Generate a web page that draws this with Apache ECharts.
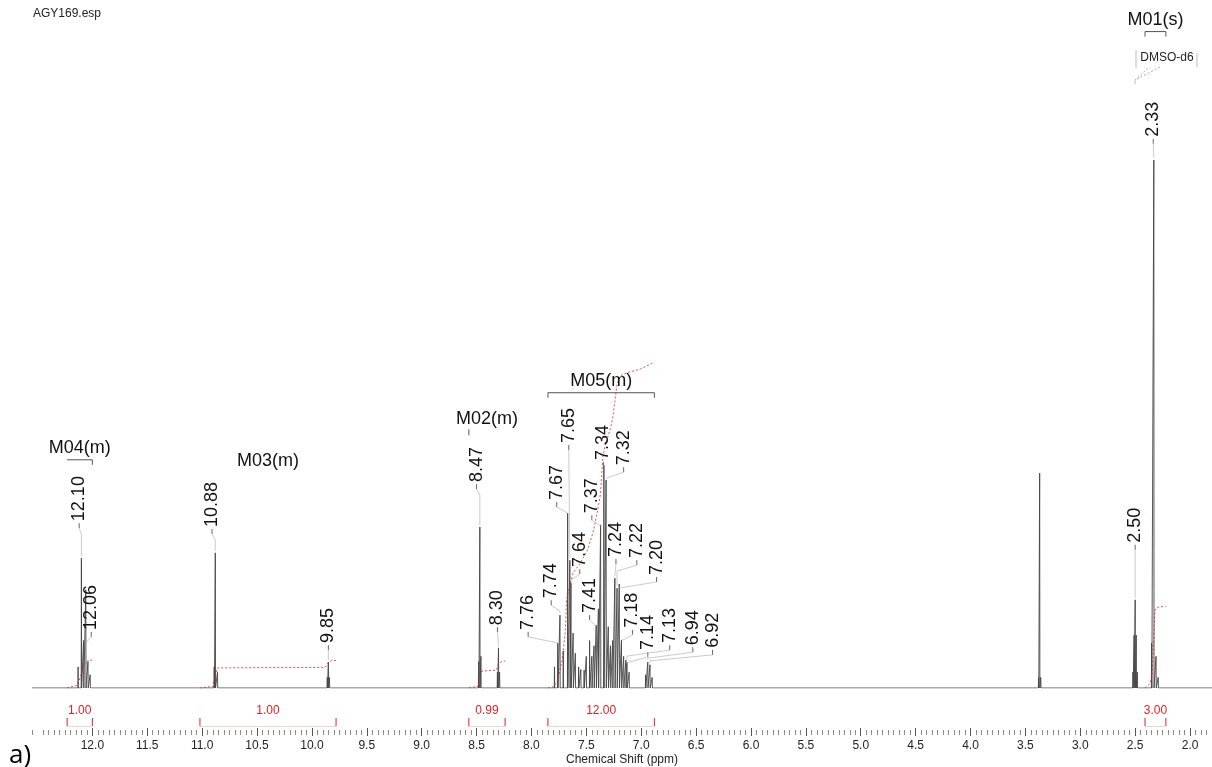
<!DOCTYPE html>
<html>
<head>
<meta charset="utf-8">
<script src="https://cdn.jsdelivr.net/npm/echarts@6/dist/echarts.min.js"></script>
<style>
  html, body { margin: 0; padding: 0; background: #ffffff; }
  #chart { width: 1212px; height: 767px; }
</style>
</head>
<body>
<div id="chart"></div>
<script>
// ---- 1H NMR spectrum, AGY169 in DMSO-d6 ----
const FONT = '"Liberation Sans", Arial, sans-serif';

// Peak list: chemical shift (ppm) and relative intensity (2.33 ppm = 100)
const peakShifts = [
  12.13, 12.10, 12.08, 12.06, 12.04, 12.02,
  10.89, 10.88, 10.86,
  9.86, 9.85, 9.84,
  8.48, 8.47, 8.46, 8.31, 8.30, 8.29,
  7.79, 7.76, 7.74, 7.71, 7.67, 7.65, 7.64, 7.62, 7.60, 7.57, 7.55, 7.52, 7.50,
  7.47, 7.45, 7.43, 7.41, 7.39, 7.37, 7.34, 7.32, 7.30, 7.28, 7.26, 7.24, 7.22,
  7.20, 7.18, 7.16, 7.14, 7.13, 7.11, 6.96, 6.94, 6.92, 6.90,
  3.38, 3.37, 3.36,
  2.52, 2.51, 2.50, 2.49, 2.48,
  2.35, 2.33, 2.31, 2.29
];
const peakHeights = [
  4, 24.6, 9, 18.6, 5, 2.5,
  4, 25.6, 3,
  2, 4.9, 2,
  5, 30.5, 6, 3, 7.6, 3,
  4, 8.5, 13.8, 7, 33.1, 24.2, 19.9, 10.4, 6.6, 4, 3.5, 3.4, 6,
  9, 6, 8, 11.9, 15, 30.9, 42.2, 39.4, 11.6, 8, 9, 20.8, 18.9,
  19.7, 9.1, 6, 5.3, 4.9, 3, 2.5, 4.9, 4.4, 2,
  2, 40.7, 2,
  3, 10, 16.7, 10, 3,
  8.5, 100, 6, 2
];

// Peaks carrying a shift label
const labelledShifts = [
  12.10, 12.06, 10.88, 9.85, 8.47, 8.30, 7.76, 7.74, 7.67, 7.65, 7.64, 7.41,
  7.37, 7.34, 7.32, 7.24, 7.22, 7.20, 7.18, 7.14, 7.13, 6.94, 6.92, 2.50, 2.33
];
// Where each shift label starts (shift, intensity level of the text foot)
const labelAnchorShifts = [
  12.12, 12.01, 10.91, 9.85, 8.50, 8.31, 8.03, 7.82, 7.77, 7.66, 7.56, 7.47,
  7.45, 7.345, 7.16, 7.23, 7.04, 6.86, 7.08, 6.94, 6.74, 6.53, 6.35, 2.50, 2.335
];
const labelAnchorLevels = [
  31.6, 11.0, 30.5, 8.5, 39.0, 11.9, 11.0, 17.0, 35.6, 46.4, 22.9, 14.2,
  33.1, 43.2, 42.2, 24.8, 24.6, 21.4, 11.4, 7.2, 8.5, 8.1, 7.6, 27.5, 104.4
];

// Multiplets: name, integration range (ppm), integral
const multipletNames = ['M04(m)', 'M03(m)', 'M02(m)', 'M05(m)', 'M01(s)'];
const multipletRanges = [[12.23, 12.00], [11.02, 9.78], [8.57, 8.24], [7.85, 6.88], [2.41, 2.22]];
const integralValues = [1.00, 1.00, 0.99, 12.00, 3.00];
const multipletLabelLevels = [45.4, 43.0, 51.0, 58.1, 126.5];
const bracketModes = ['right', 'none', 'left', 'both', 'both'];

// Integral curves (shift, cumulative level)
const integralM04 = [[12.23, 0], [12.14, 0.5], [12.11, 2], [12.09, 3.5], [12.07, 4.5], [12.04, 5.2], [12.00, 5.3]];
const integralM03 = [[11.02, 0], [10.90, 0.3], [10.88, 2.5], [10.86, 3.8], [10.50, 3.85], [9.88, 3.9], [9.85, 4.8], [9.82, 5.2], [9.78, 5.2]];
const integralM02 = [[8.57, 0], [8.49, 0.3], [8.47, 2.5], [8.45, 3.2], [8.32, 3.4], [8.30, 4.6], [8.27, 5.0], [8.24, 5.1]];
const integralM05 = [
  [7.85, 0], [7.80, 0.2], [7.76, 1.5], [7.72, 5.3], [7.69, 11.0], [7.68, 16.7], [7.65, 19.5],
  [7.62, 21.8], [7.56, 23.5], [7.49, 26.1], [7.44, 29.4], [7.40, 33.3], [7.37, 36.9], [7.36, 40.3],
  [7.35, 43.6], [7.33, 45.8], [7.28, 49.2], [7.26, 51.1], [7.24, 54.2], [7.22, 57.6], [7.19, 59.1],
  [7.13, 59.7], [7.01, 60.4], [6.88, 61.7]
];
const integralM01 = [[2.41, 0], [2.365, 0.8], [2.347, 2.3], [2.338, 5.3], [2.329, 11.0], [2.32, 14.8], [2.292, 15.3], [2.22, 15.5]];

const majorTicks = [12.0, 11.5, 11.0, 10.5, 10.0, 9.5, 9.0, 8.5, 8.0, 7.5, 7.0, 6.5, 6.0, 5.5, 5.0, 4.5, 4.0, 3.5, 3.0, 2.5, 2.0];
const solventName = 'DMSO-d6';
const solventAnchor = [2.21, 119.3];

const X_MIN = 1.80, X_MAX = 12.55, Y_MAX = 130;

// minor ticks every 0.05 ppm between the labelled ones
const minorTicks = [];
for (let k = Math.ceil(X_MIN * 20); k <= Math.floor(X_MAX * 20); k++) {
  if (k % 10 !== 0) minorTicks.push(+(k * 0.05).toFixed(2));
}

// Stick spectrum built from the peak list
const STICK = 0.002;
function spectrumPoints() {
  const idx = peakShifts.map((_, i) => i).sort((a, b) => peakShifts[b] - peakShifts[a]);
  const pts = [[X_MAX, 0]];
  idx.forEach(i => {
    const s = peakShifts[i];
    pts.push([s + STICK, 0], [s, peakHeights[i]], [s - STICK, 0]);
  });
  pts.push([X_MIN, 0]);
  return pts;
}
function heightAt(shift) {
  const i = peakShifts.indexOf(shift);
  return i >= 0 ? peakHeights[i] : 0;
}

const RED = '#dd2222';

const integralSeries = [integralM04, integralM03, integralM02, integralM05, integralM01].map(curve => ({
  type: 'line',
  data: curve,
  showSymbol: false,
  silent: true,
  animation: false,
  z: 4,
  lineStyle: { color: RED, width: 1, type: [2, 2], opacity: 0.8 }
}));

const option = {
  animation: false,
  backgroundColor: '#ffffff',
  title: {
    text: 'AGY169.esp',
    left: 33, top: 8, padding: 0,
    textStyle: { fontFamily: FONT, fontSize: 12, fontWeight: 'normal', color: '#222' }
  },
  grid: {
    left: 32, right: 0, top: 688 - Y_MAX * 5.28, bottom: 79,
    containLabel: false, outerBoundsMode: 'none'
  },
  xAxis: [
    {
      type: 'value', inverse: true, min: X_MIN, max: X_MAX, offset: 40,
      name: 'Chemical Shift (ppm)', nameLocation: 'middle', nameGap: 26, nameMoveOverlap: false,
      nameTextStyle: { fontFamily: FONT, fontSize: 12, color: '#222' },
      axisLine: { show: false, onZero: false },
      splitLine: { show: false },
      axisTick: { show: true, customValues: majorTicks, length: 8, lineStyle: { color: '#555', width: 1 } },
      axisLabel: {
        customValues: majorTicks, margin: 12,
        formatter: v => (+v).toFixed(1),
        fontFamily: FONT, fontSize: 12, color: '#222'
      }
    },
    {
      type: 'value', inverse: true, min: X_MIN, max: X_MAX, offset: 42, position: 'bottom',
      axisLine: { show: false, onZero: false },
      splitLine: { show: false },
      axisTick: { show: true, customValues: minorTicks, length: 5, lineStyle: { color: '#8a8a8a', width: 1 } },
      axisLabel: { show: false }
    }
  ],
  yAxis: { type: 'value', min: 0, max: Y_MAX, show: false },
  graphic: [
    {
      type: 'text', left: 9, top: 743,
      style: { text: 'a)', fontFamily: '"Open Sans", sans-serif', fontSize: 26, fill: '#000' }
    }
  ],
  series: [
    {
      type: 'line',
      data: spectrumPoints(),
      showSymbol: false,
      silent: true,
      animation: false,
      z: 3,
      lineStyle: { color: '#444', width: 0.9 }
    },
    ...integralSeries,
    // shift labels with leader lines
    {
      type: 'custom', silent: true, z: 6,
      data: labelledShifts.map((s, i) => [s, heightAt(s), labelAnchorShifts[i], labelAnchorLevels[i]]),
      renderItem(params, api) {
        const s = api.value(0);
        const top = api.coord([s, api.value(1)]);
        const a = api.coord([api.value(2), api.value(3)]);
        const kids = [{
          type: 'text', x: a[0], y: a[1], rotation: Math.PI / 2,
          style: { text: s.toFixed(2), fontFamily: FONT, fontSize: 18, fill: '#111', align: 'left', verticalAlign: 'middle' }
        }];
        const y0 = a[1] + 2, y1 = a[1] + 7;
        kids.push({ type: 'line', shape: { x1: a[0], y1: y0, x2: a[0], y2: y1 }, style: { stroke: '#666', lineWidth: 1 } });
        const pts = [[a[0], y1]];
        if (Math.abs(a[0] - top[0]) > 1.5) pts.push([top[0], y1 + 6]);
        const last = pts[pts.length - 1];
        if (top[1] - 2 > last[1]) pts.push([top[0], top[1] - 2]);
        if (pts.length > 1) {
          kids.push({ type: 'polyline', shape: { points: pts }, style: { stroke: '#b4b4b4', lineWidth: 0.7, fill: null } });
        }
        return { type: 'group', children: kids };
      }
    },
    // multiplet names and brackets
    {
      type: 'custom', silent: true, z: 6,
      data: multipletRanges.map((r, i) => [r[0], r[1], multipletLabelLevels[i], i]),
      renderItem(params, api) {
        const i = api.value(3);
        const p1 = api.coord([api.value(0), api.value(2)]);
        const p2 = api.coord([api.value(1), api.value(2)]);
        const cx = (p1[0] + p2[0]) / 2, cy = p1[1];
        const kids = [{
          type: 'text', x: cx, y: cy,
          style: { text: multipletNames[i], fontFamily: FONT, fontSize: 18, fill: '#111', align: 'center', verticalAlign: 'middle' }
        }];
        const by = cy + 11.5, ty = by + 5;
        const mode = bracketModes[i];
        const st = { stroke: '#555', lineWidth: 1 };
        if (mode === 'both' || mode === 'right') {
          kids.push({ type: 'line', shape: { x1: p1[0], y1: by, x2: p2[0], y2: by }, style: st });
          kids.push({ type: 'line', shape: { x1: p2[0], y1: by, x2: p2[0], y2: ty }, style: st });
        }
        if (mode === 'both') kids.push({ type: 'line', shape: { x1: p1[0], y1: by, x2: p1[0], y2: ty }, style: st });
        if (mode === 'left') kids.push({ type: 'line', shape: { x1: p1[0], y1: by - 1, x2: p1[0], y2: ty }, style: st });
        return { type: 'group', children: kids };
      }
    },
    // integral values and ranges below the baseline
    {
      type: 'custom', silent: true, z: 6,
      data: multipletRanges.map((r, i) => [r[0], r[1], integralValues[i]]),
      renderItem(params, api) {
        const p1 = api.coord([api.value(0), 0]);
        const p2 = api.coord([api.value(1), 0]);
        const base = p1[1];
        const cx = (p1[0] + p2[0]) / 2;
        return {
          type: 'group', children: [
            { type: 'text', x: cx, y: base + 22.5,
              style: { text: api.value(2).toFixed(2), fontFamily: FONT, fontSize: 12, fill: RED, align: 'center', verticalAlign: 'middle' } },
            { type: 'line', shape: { x1: p1[0], y1: base + 38.5, x2: p2[0], y2: base + 38.5 }, style: { stroke: '#f4d0d0', lineWidth: 1 } },
            { type: 'line', shape: { x1: p1[0], y1: base + 30, x2: p1[0], y2: base + 38 }, style: { stroke: RED, lineWidth: 1 } },
            { type: 'line', shape: { x1: p2[0], y1: base + 30, x2: p2[0], y2: base + 38 }, style: { stroke: RED, lineWidth: 1 } }
          ]
        };
      }
    },
    // solvent annotation
    {
      type: 'custom', silent: true, z: 6,
      data: [solventAnchor],
      renderItem(params, api) {
        const c = api.coord([api.value(0), api.value(1)]);
        const x = c[0], y = c[1];
        const grey = { stroke: '#aaa', lineWidth: 0.8 };
        const dash = { stroke: '#999', lineWidth: 0.8, lineDash: [2, 2] };
        return {
          type: 'group', children: [
            { type: 'text', x: x, y: y,
              style: { text: solventName, fontFamily: FONT, fontSize: 12, fill: '#222', align: 'center', verticalAlign: 'middle' } },
            { type: 'line', shape: { x1: x - 31, y1: y - 8, x2: x - 31, y2: y + 10 }, style: grey },
            { type: 'line', shape: { x1: x + 30, y1: y - 5, x2: x + 30, y2: y + 9 }, style: grey },
            { type: 'line', shape: { x1: x - 19, y1: y + 10, x2: x - 32, y2: y + 22 }, style: dash },
            { type: 'line', shape: { x1: x - 7, y1: y + 9, x2: x - 30, y2: y + 21 }, style: dash },
            { type: 'line', shape: { x1: x - 32, y1: y + 22, x2: x - 32, y2: y + 26 }, style: grey }
          ]
        };
      }
    }
  ]
};

const chart = echarts.init(document.getElementById('chart'), null, { renderer: 'canvas' });
chart.setOption(option);
</script>
</body>
</html>
